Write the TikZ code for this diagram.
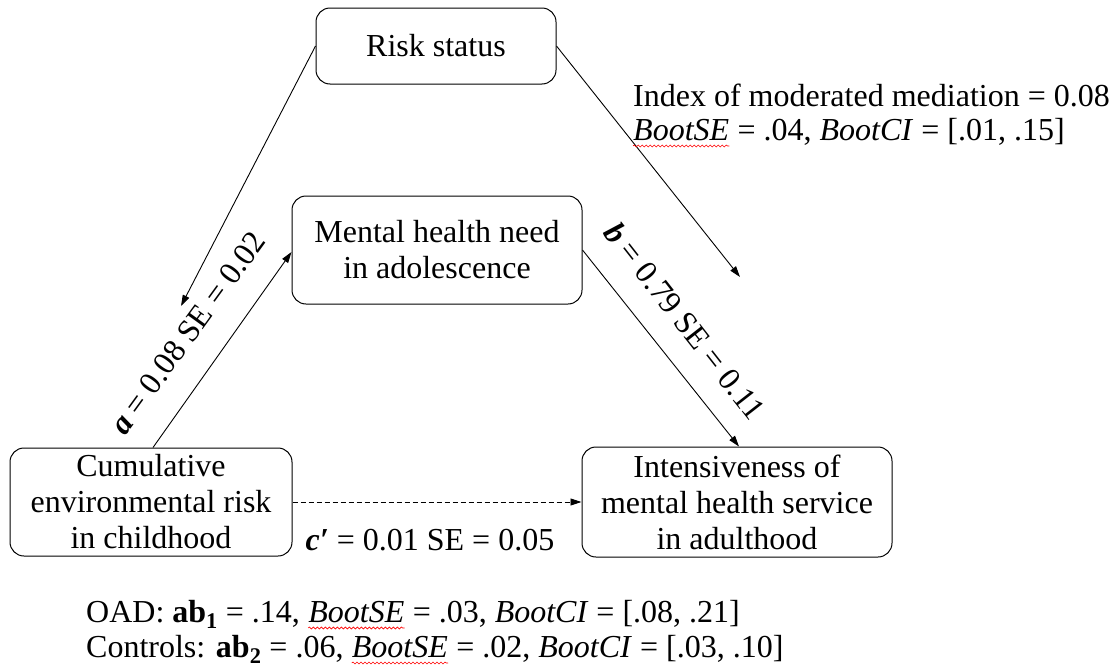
\documentclass[tikz,border=0pt]{standalone}
\usepackage{fontspec}
\setmainfont{Liberation Serif}
\usetikzlibrary{arrows.meta,decorations.pathmorphing}
\begin{document}
\begin{tikzpicture}[x=1pt,y=-1pt,
  box/.style={draw, rounded corners=14pt, line width=1pt, align=center, inner sep=0pt},
  arr/.style={line width=0.9pt, -{Triangle[length=11pt,width=7pt]}},
  txt/.style={font=\fontsize{32}{36}\selectfont},
  seg/.style={txt, anchor=base west, inner sep=0pt},
  squig/.style={draw=red, line width=0.6pt, decorate, decoration={snake, amplitude=1pt, segment length=4pt}}]
\useasboundingbox (0,0) rectangle (1120,672);
\node[box, txt, minimum width=240pt, minimum height=76pt] (risk) at (436,46) {Risk status};
\node[box, txt, minimum width=290pt, minimum height=108pt] (med) at (437,250) {Mental health need\\in adolescence};
\node[box, txt, minimum width=282pt, minimum height=108pt] (cum) at (151,502) {Cumulative\\environmental risk\\in childhood};
\node[box, txt, minimum width=310pt, minimum height=110pt] (out) at (737,502) {Intensiveness of\\mental health service\\in adulthood};
\coordinate (rl) at (181,306);
\coordinate (rr) at (740,277);
\draw[arr] (risk.west) -- (rl);
\draw[arr] (risk.east) -- (rr);
\draw[arr] ([xshift=2pt]cum.north) -- ([yshift=-2pt]med.west);
\draw[arr] (med.east) -- ([xshift=2pt]out.north);
\draw[arr, dashed, dash pattern=on 5pt off 3pt] (cum.east) -- (out.west);
\node[txt, rotate=54] (la) at (188,333) {\textbf{\textit{a}} = 0.08 SE = 0.02};
\node[txt, rotate=-52] (lb) at (685,321) {\textbf{\textit{b}} = 0.79 SE = 0.11};
\node[txt] (lc) at (430,540) {\textbf{\textit{c′}} = 0.01 SE = 0.05};
% index text
\node[seg] (i1) at (633,106) {Index of moderated mediation = 0.08};
\node[seg] (i2a) at (633,140) {\textit{BootSE}};
\node[seg] (i2b) at (i2a.base east) {\ = .04, \textit{BootCI} = [.01, .15]};
\draw[squig] ([yshift=-6pt]i2a.base west) -- ([yshift=-6pt]i2a.base east);
% bottom text
\node[seg] (o1) at (86,622) {OAD: \textbf{ab\textsubscript{1}} = .14,};
\node[seg] (o2) at ([xshift=8pt]o1.base east) {\textit{BootSE}};
\node[seg] (o3) at (o2.base east) {\ = .03, \textit{BootCI} = [.08, .21]};
\draw[squig] ([yshift=-6pt]o2.base west) -- ([yshift=-6pt]o2.base east);
\node[seg] (c1) at (86,657) {Controls: \textbf{ab\textsubscript{2}} = .06,};
\node[seg] (c2) at ([xshift=8pt]c1.base east) {\textit{BootSE}};
\node[seg] (c3) at (c2.base east) {\ = .02, \textit{BootCI} = [.03, .10]};
\draw[squig] ([yshift=-6pt]c2.base west) -- ([yshift=-6pt]c2.base east);
\end{tikzpicture}
\end{document}
